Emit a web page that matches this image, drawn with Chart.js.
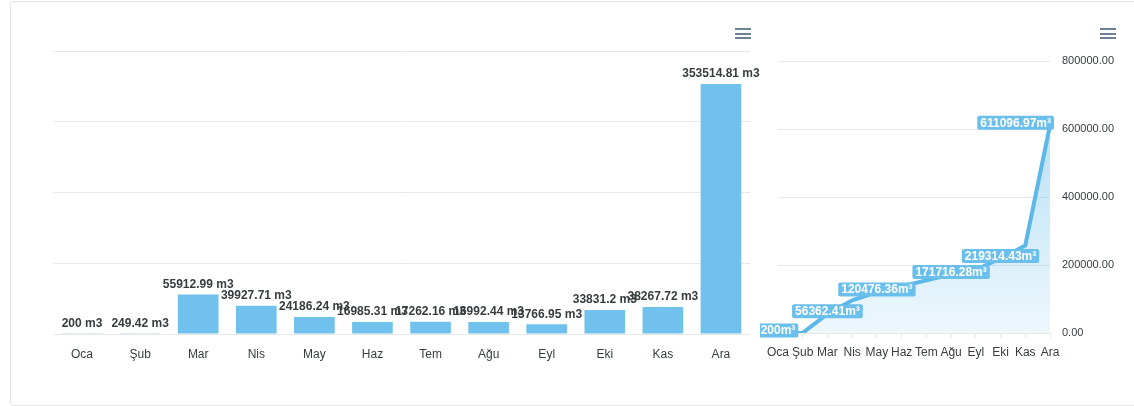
<!DOCTYPE html>
<html>
<head>
<meta charset="utf-8">
<script src="https://cdn.jsdelivr.net/npm/chart.js@4/dist/chart.umd.min.js"></script>
<style>
    body { margin: 0; background: #fff; width: 1134px; height: 406px; overflow: hidden; position: relative; font-family: "Liberation Sans", Arial, sans-serif; }
    .card { position: absolute; left: 10px; top: 1px; width: 1140px; height: 403px; border: 1px solid #e3e4ea; border-radius: 3px; }
    #barChart { position: absolute; left: 0; top: 0; }
    #lineChart { position: absolute; left: 760px; top: 0; }
    .menu { position: absolute; width: 16px; height: 11px; }
    .menu span { display: block; height: 2px; background: #6e8192; margin-bottom: 2.5px; }
</style>
</head>
<body>
<div class="card"></div>
<canvas id="barChart" width="760" height="406"></canvas>
<canvas id="lineChart" width="374" height="406"></canvas>
<div class="menu" style="left:735px; top:28px;"><span></span><span></span><span></span></div>
<div class="menu" style="left:1100px; top:28px;"><span></span><span></span><span></span></div>
<script>
// Aylar
const months = ['Oca', 'Şub', 'Mar', 'Nis', 'May', 'Haz', 'Tem', 'Ağu', 'Eyl', 'Eki', 'Kas', 'Ara'];

// Aylık tüketim (m3)
const monthly = [200, 249.42, 55912.99, 39927.71, 24186.24, 16985.31, 17262.16, 16992.44, 13766.95, 33831.2, 38267.72, 353514.81];

// Kümülatif tüketim (m³)
const cumulative = [200, 449.42, 56362.41, 96290.12, 120476.36, 137461.67, 154723.83, 171716.28, 185483.23, 219314.43, 257582.15, 611096.97];

// Sağ eksen etiketleri
const lineTicks = [0, 200000, 400000, 600000, 800000];

const FONT = '"Liberation Sans", Arial, sans-serif';
const TEXT = '#373d3f';
const GRID = '#e8e8e8';
const BLUE = '#70c1ec';
const LINE = '#5cb8e9';

// Çubuk etiketleri
const barLabels = {
    id: 'barLabels',
    afterDatasetsDraw(chart) {
        const ctx = chart.ctx;
        const meta = chart.getDatasetMeta(0);
        ctx.save();
        ctx.font = 'bold 12px ' + FONT;
        ctx.fillStyle = TEXT;
        ctx.textAlign = 'center';
        ctx.textBaseline = 'middle';
        meta.data.forEach((bar, i) => {
            ctx.fillText(monthly[i] + ' m3', bar.x, bar.y - 10);
        });
        ctx.restore();
    }
};

// Çizgi etiketleri (üst üste binenler gizlenir)
const lineLabels = {
    id: 'lineLabels',
    afterDatasetsDraw(chart) {
        const ctx = chart.ctx;
        const meta = chart.getDatasetMeta(0);
        const area = chart.chartArea;
        const drawn = [];
        ctx.save();
        ctx.font = 'bold 12px ' + FONT;
        ctx.textAlign = 'center';
        ctx.textBaseline = 'middle';
        meta.data.forEach((pt, i) => {
            const text = cumulative[i] + 'm³';
            const w = ctx.measureText(text).width + 6;
            const h = 14;
            let cx = pt.x;
            if (cx + w / 2 > area.right + 4) cx = area.right + 4 - w / 2;
            const cy = pt.y - 2.5;
            const box = { l: cx - w / 2, r: cx + w / 2, t: cy - h / 2, b: cy + h / 2 };
            const hit = drawn.some(d => box.l < d.r && box.r > d.l && box.t < d.b && box.b > d.t);
            if (hit) return;
            drawn.push(box);
            ctx.fillStyle = '#6bbfec';
            ctx.beginPath();
            ctx.roundRect(box.l, box.t, w, h, 2);
            ctx.fill();
            ctx.fillStyle = '#fff';
            ctx.fillText(text, cx, cy + 0.5);
        });
        ctx.restore();
    }
};

new Chart(document.getElementById('barChart'), {
    type: 'bar',
    data: {
        labels: months,
        datasets: [{
            data: monthly,
            backgroundColor: BLUE,
            borderWidth: 0,
            barPercentage: 0.7,
            categoryPercentage: 1
        }]
    },
    options: {
        responsive: false,
        animation: false,
        layout: { padding: { left: 53, right: 10, top: 51, bottom: 31.6 } },
        plugins: { legend: { display: false }, tooltip: { enabled: false } },
        scales: {
            x: {
                grid: { display: false, drawTicks: false },
                border: { display: false },
                ticks: { color: TEXT, font: { family: FONT, size: 12 }, padding: 13, maxRotation: 0, autoSkip: false }
            },
            y: {
                min: 0,
                max: 400000,
                ticks: { display: false, stepSize: 100000 },
                grid: { color: GRID, drawTicks: false },
                border: { display: false }
            }
        }
    },
    plugins: [barLabels]
});

new Chart(document.getElementById('lineChart'), {
    type: 'line',
    data: {
        labels: months,
        datasets: [{
            data: cumulative,
            borderColor: LINE,
            borderWidth: 4,
            pointRadius: 0,
            tension: 0,
            fill: 'origin',
            backgroundColor: (c) => {
                const area = c.chart.chartArea;
                if (!area) return 'rgba(112,193,236,0.3)';
                const g = c.chart.ctx.createLinearGradient(0, area.top, 0, area.bottom);
                g.addColorStop(0, 'rgba(112,193,236,0.6)');
                g.addColorStop(1, 'rgba(112,193,236,0.12)');
                return g;
            }
        }]
    },
    options: {
        responsive: false,
        animation: false,
        layout: { padding: { left: 14, right: 14, top: 61, bottom: 39.6 } },
        plugins: { legend: { display: false }, tooltip: { enabled: false } },
        scales: {
            x: {
                offset: false,
                grid: { drawOnChartArea: false, drawTicks: true, tickLength: 5, color: GRID },
                border: { display: false },
                ticks: { color: TEXT, font: { family: FONT, size: 12 }, padding: 7, maxRotation: 0, autoSkip: false }
            },
            y: {
                position: 'right',
                min: 0,
                max: 800000,
                afterBuildTicks: (scale) => { scale.ticks = lineTicks.map(v => ({ value: v })); },
                afterFit: (scale) => { scale.width = 70; },
                ticks: { color: TEXT, font: { family: FONT, size: 11 }, padding: 12, callback: (v) => Number(v).toFixed(2) },
                grid: { color: GRID, drawTicks: false },
                border: { display: false }
            }
        }
    },
    plugins: [lineLabels]
});
</script>
</body>
</html>
